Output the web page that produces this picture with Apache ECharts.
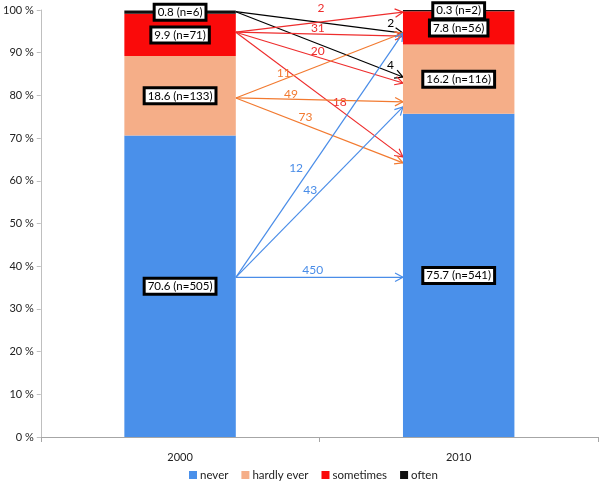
<!DOCTYPE html>
<html><head><meta charset="utf-8">
<script src="https://cdn.jsdelivr.net/npm/echarts@6/dist/echarts.min.js"></script>
<style>html,body{margin:0;padding:0;background:#fff}#c{width:600px;height:487px}</style>
</head><body><div id="c"></div>
<script>
// ---- data ----
const years = ['2000', '2010'];
const categories = ['never', 'hardly ever', 'sometimes', 'often'];
const pct2000 = [70.6, 18.6, 9.9, 0.8];
const pct2010 = [75.7, 16.2, 7.8, 0.3];
const n2000 = [505, 133, 71, 6];
const n2010 = [541, 116, 56, 2];
// transitions 2000 -> 2010 (category index from / to, count, arrow start % and end %)
const transFrom  = [3, 3, 2, 2, 2, 2, 1, 1, 1, 0, 0, 0];
const transTo    = [2, 1, 3, 2, 1, 0, 2, 1, 0, 2, 1, 0];
const transCount = [2, 4, 2, 31, 20, 18, 11, 49, 73, 12, 43, 450];
const transStart = [99.6, 99.6, 94.8, 94.8, 94.8, 94.8, 79.4, 79.4, 79.4, 37.4, 37.4, 37.4];
const transEnd   = [94.6, 84.3, 99.5, 93.9, 82.9, 65.6, 94.6, 78.5, 64.2, 94.6, 77.3, 37.4];

// ---- layout / style ----
const barColors = ['#4A90EA', '#F5AE88', '#FA0A0A', '#111111'];
const arrowColors = ['#4A8DE8', '#F27A30', '#EE2D2D', '#000000'];
const labelAlong = [0.92, 0.91, 0.52, 0.49, 0.48, 0.60, 0.30, 0.33, 0.40, 0.42, 0.48, 0.46];
const labelOffset = [8, 7, 14, 6, 6, 6, 6, 5, 7.5, 12, 8, 7];
const FONT = 'Lato, "Liberation Sans", sans-serif';
const BOXFONT = 'Lato, sans-serif';

const chart = echarts.init(document.getElementById('c'), null, {renderer: 'canvas'});

const barSeries = categories.map((name, ci) => ({
  name: name,
  type: 'bar',
  stack: 'total',
  barWidth: '40%',
  itemStyle: {color: barColors[ci]},
  z: 3,
  label: {
    show: true,
    position: 'inside',
    formatter: p => {
      const v = p.dataIndex === 0 ? pct2000[ci] : pct2010[ci];
      const n = p.dataIndex === 0 ? n2000[ci] : n2010[ci];
      return v.toFixed(1) + ' (n=' + n + ')';
    },
    color: '#000',
    fontFamily: BOXFONT,
    fontSize: 11.5,
    lineHeight: 13,
    backgroundColor: '#fff',
    borderColor: '#000',
    borderWidth: 3,
    padding: [0, 2, 0, 2]
  },
  data: [pct2000[ci], pct2010[ci]]
}));

const arrowSeries = {
  type: 'custom',
  name: 'transitions',
  clip: false,
  z: 2,
  silent: true,
  encode: {x: 0, y: [1, 2]},
  data: transCount.map((c, i) => [0, transStart[i], transEnd[i], c, transFrom[i]]),
  renderItem: function (params, api) {
    const i = params.dataIndex;
    const band = api.size([1, 0])[0];
    const a = api.coord([0, api.value(1)]);
    const b = api.coord([1, api.value(2)]);
    const x0 = a[0] + band * 0.2, y0 = a[1];
    const x1 = b[0] - band * 0.2, y1 = b[1];
    const col = arrowColors[api.value(4)];
    const dx = x1 - x0, dy = y1 - y0;
    const len = Math.sqrt(dx * dx + dy * dy);
    const ux = dx / len, uy = dy / len;
    const ang = 28 * Math.PI / 180, hl = 9;
    const ca = Math.cos(ang), sa = Math.sin(ang);
    const h1x = x1 - hl * (ux * ca - uy * sa), h1y = y1 - hl * (uy * ca + ux * sa);
    const h2x = x1 - hl * (ux * ca + uy * sa), h2y = y1 - hl * (uy * ca - ux * sa);
    let nx = uy, ny = -ux;
    if (ny > 0) { nx = -nx; ny = -ny; }
    const t = labelAlong[i], d = labelOffset[i];
    const lx = x0 + dx * t + nx * d, ly = y0 + dy * t + ny * d;
    return {
      type: 'group',
      children: [
        {type: 'line', shape: {x1: x0, y1: y0, x2: x1, y2: y1}, style: {stroke: col, lineWidth: 1.2}},
        {type: 'polyline', shape: {points: [[h1x, h1y], [x1, y1], [h2x, h2y]]}, style: {stroke: col, lineWidth: 1.2, fill: null}},
        {type: 'text', style: {text: String(api.value(3)), x: lx, y: ly, fill: col, font: '12px ' + FONT, align: 'center', verticalAlign: 'middle'}}
      ]
    };
  }
};

chart.setOption({
  animation: false,
  backgroundColor: '#fff',
  grid: {left: 37, right: 2, top: 10, bottom: 50},
  legend: {
    data: categories,
    bottom: 1,
    left: 184,
    icon: 'rect',
    itemWidth: 8,
    itemHeight: 8,
    itemGap: 13,
    selectedMode: false,
    textStyle: {fontFamily: FONT, fontSize: 11.5, color: '#222', padding: [0, 0, 0, -2]}
  },
  xAxis: {
    type: 'category',
    data: years,
    axisLine: {lineStyle: {color: '#a6a6a6'}},
    axisTick: {show: true, length: 5, lineStyle: {color: '#a6a6a6'}},
    axisLabel: {fontFamily: FONT, fontSize: 11, color: '#222', margin: 15}
  },
  yAxis: {
    type: 'value',
    min: 0, max: 100, interval: 10,
    axisLine: {show: true, lineStyle: {color: '#bfbfbf'}},
    axisTick: {show: true, length: 4, lineStyle: {color: '#bfbfbf'}},
    splitLine: {show: false},
    axisLabel: {fontFamily: FONT, fontSize: 11, color: '#222', margin: 7, formatter: '{value} %'}
  },
  series: barSeries.concat([arrowSeries])
});
</script>
</body></html>
